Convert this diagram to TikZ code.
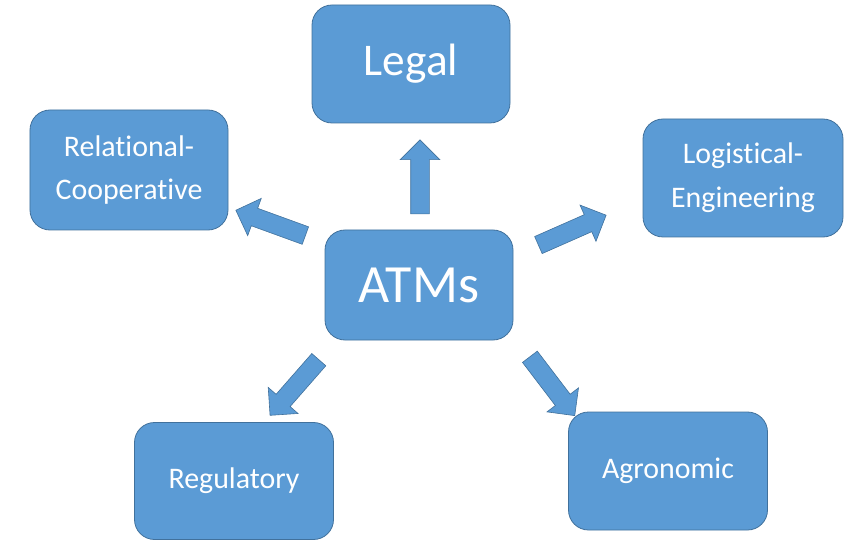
\documentclass[tikz,border=0pt]{standalone}
\usepackage{fontspec}
\setmainfont[RawFeature=-liga]{Carlito}
\usepackage{xcolor}
\definecolor{atmblue}{HTML}{5B9BD5}
\definecolor{atmedge}{HTML}{41719C}
\usetikzlibrary{positioning, shapes.arrows}

\begin{document}
\begin{tikzpicture}[
    x=1bp, y=-1bp,
    area/.style={draw=atmedge, fill=atmblue, line width=0.8bp,
                 rounded corners=20bp, text=white, align=center,
                 minimum width=198bp, minimum height=118bp,
                 font=\fontsize{30}{44}\selectfont},
    blockarrow/.style={single arrow, draw=atmedge, fill=atmblue,
                       line width=0.6bp, inner xsep=0pt, inner ysep=9bp,
                       minimum height=74bp, single arrow head extend=10.5bp}
  ]
    \useasboundingbox (0,0) rectangle (850,551);

    % centre
    \node[area, minimum width=188bp, minimum height=110bp,
          font=\fontsize{54}{60}\selectfont] (atms) at (419,285) {ATMs};

    % Legal
    \node[area, font=\fontsize{45.5}{50}\selectfont] (legal) at (411,64)
      {Legal};

    % Relational-Cooperative
    \node[area, minimum height=120bp] (relcoop) at (129,170)
      {Relational-\\Cooperative};

    % Logistical-Engineering
    \node[area, minimum width=200bp] (logeng) at (743,178)
      {Logistical-\\Engineering};

    % Regulatory
    \node[area, minimum width=199bp, minimum height=117bp] (regul) at (234,481)
      {Regulatory};

    % Agronomic
    \node[area, minimum width=199bp] (agro) at (668,471) {Agronomic};

    % Arrows
    \node[blockarrow, rotate=90] (tolegal) at (420,181.5) {};
    \node[blockarrow, rotate=160] (torelcoop) at (275,224.5) {};
    \node[blockarrow, rotate=23.8] (tologeng) at (568,232) {};
    \node[blockarrow, rotate=228.8] (toregul) at (297.5,384) {};
    \node[blockarrow, rotate=-52.7] (toagro) at (549.5,382.5) {};
  \end{tikzpicture}
\end{document}
